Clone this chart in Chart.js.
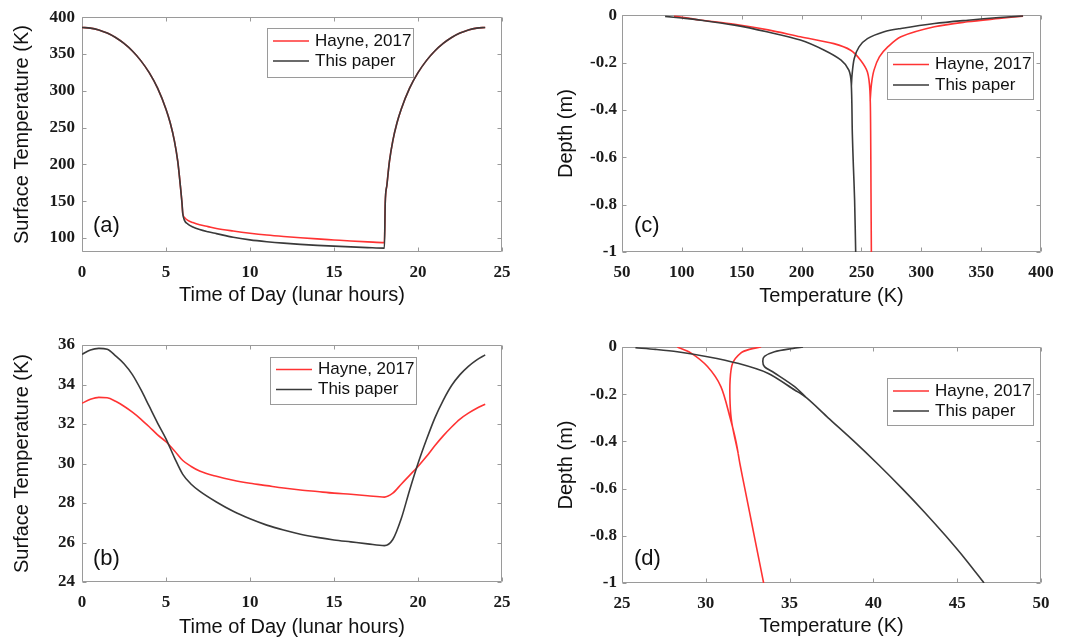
<!DOCTYPE html>
<html><head><meta charset="utf-8">
<script src="https://cdn.jsdelivr.net/npm/chart.js@4.4.1/dist/chart.umd.min.js"></script>
<style>
html,body{margin:0;padding:0;background:#fff;}
#wrap{position:relative;width:1068px;height:640px;overflow:hidden;background:#fff;}
canvas{position:absolute;}
</style></head><body>
<div id="wrap">
<canvas id="pa" width="534" height="320" style="left:0;top:0"></canvas>
<canvas id="pc" width="534" height="320" style="left:534px;top:0"></canvas>
<canvas id="pb" width="534" height="320" style="left:0;top:320px"></canvas>
<canvas id="pd" width="534" height="320" style="left:534px;top:320px"></canvas>
</div>
<script>
// ---------- data ----------
const seriesNames = ['Hayne, 2017', 'This paper'];

// (a) surface temperature over a lunar day (equator)
const timeA = [0,0.5,1,1.5,2,2.5,3,3.5,4,4.5,5,5.25,5.5,5.7,5.85,5.95,6,
  6.1,6.3,6.6,7,7.5,8,9,10,11,12,13,14,15,16,17,18,
  18.05,18.15,18.3,18.5,18.75,19,19.5,20,20.5,21,21.5,22,22.5,23,23.5,24];
const hayneA = [386,385.2,382.7,378.4,372.4,364.3,354,341,324.6,303.6,275,256.5,232,204,172,148,133,
  128,124,121,118,115.5,113,109.5,106.5,104,102,100.3,98.8,97.4,96,94.8,93.7,
  148,172,204,232,256.5,275,303.6,324.6,341,354,364.3,372.4,378.4,382.7,385.2,386];
const thisA = [386,385.2,382.7,378.4,372.4,364.3,354,341,324.6,303.6,275,256.5,232,204,172,148,133,
  124,119,115,111.5,108.5,106,101,97.5,95,93,91.4,90,89,88,87,86.2,
  148,172,204,232,256.5,275,303.6,324.6,341,354,364.3,372.4,378.4,382.7,385.2,386];

// (b) surface temperature over a lunar day (polar)
const timeB = [0,0.5,1,1.5,2,2.5,3,3.5,4,4.5,5,5.5,6,6.5,7,8,9,10,11,12,13,14,15,16,17,18,
  18.5,19,19.5,20,20.5,21,21.5,22,22.5,23,23.5,24];
const hayneB = [33.05,33.25,33.35,33.33,33.15,32.9,32.6,32.25,31.86,31.45,31.1,30.65,30.15,29.85,29.62,
  29.35,29.15,29.0,28.88,28.76,28.66,28.58,28.5,28.44,28.37,28.3,
  28.5,28.95,29.4,29.85,30.35,30.9,31.4,31.85,32.25,32.55,32.8,33.0];
const thisB = [35.53,35.75,35.83,35.78,35.45,35.05,34.5,33.75,32.9,32.05,31.25,30.3,29.45,28.95,28.6,
  28.05,27.58,27.2,26.88,26.63,26.42,26.26,26.13,26.03,25.93,25.84,
  26.15,27.2,28.65,30.0,31.2,32.3,33.2,33.95,34.5,34.92,35.25,35.5];

// (c) temperature vs depth envelopes (equator): night (min) and noon (max) branches
const cHayneNightT = [93.5,115,144,172,199,227,241,249.3,255,257.1,257.7,258,258.3];
const cHayneNightD = [-0.004,-0.02,-0.038,-0.062,-0.091,-0.12,-0.148,-0.19,-0.24,-0.32,-0.49,-0.75,-1];
const cHayneDayT = [385,365,338.5,311,283,272,265,260.5,258.4,257.3];
const cHayneDayD = [-0.004,-0.014,-0.028,-0.049,-0.091,-0.134,-0.176,-0.232,-0.29,-0.36];
const cThisNightT = [86,100,116,144,171,199,219,233,239.5,241.5,242.4,243.3,244.3,245.2];
const cThisNightD = [-0.005,-0.012,-0.021,-0.042,-0.07,-0.105,-0.148,-0.19,-0.232,-0.288,-0.5,-0.64,-0.78,-1];
const cThisDayT = [385,365,339,311,283,269,255,248,244,242.2,241.6];
const cThisDayD = [-0.003,-0.01,-0.021,-0.035,-0.056,-0.07,-0.099,-0.134,-0.183,-0.25,-0.3];

// (d) temperature vs depth envelopes (polar)
const dHayneColdT = [28.3,29.1,30.1,30.9,31.45,31.8,32.05,32.33,32.61,32.89,33.17,33.45];
const dHayneColdD = [0,-0.025,-0.083,-0.168,-0.3,-0.4,-0.5,-0.6,-0.7,-0.8,-0.9,-1];
const dHayneWarmT = [33.3,32.6,32.1,31.6,31.45,31.45,31.55,31.93];
const dHayneWarmD = [0,-0.01,-0.025,-0.069,-0.14,-0.24,-0.32,-0.45];
const dThisColdT = [25.8,27,28.3,30.1,31.9,33.7,35.3,36.0,37.3,38.85,40.32,41.72,43.05,44.31,45.5,46.6];
const dThisColdD = [-0.003,-0.01,-0.02,-0.041,-0.069,-0.111,-0.182,-0.215,-0.3,-0.4,-0.5,-0.6,-0.7,-0.8,-0.9,-1];
const dThisWarmT = [35.8,35.2,34.1,33.5,33.4,33.5,34.1,35.3,36.0];
const dThisWarmD = [0,-0.006,-0.02,-0.04,-0.06,-0.083,-0.11,-0.168,-0.215];

// tick labels
const timeTicks = [0,5,10,15,20,25];
const tempTicksA = [100,150,200,250,300,350,400];
const tempTicksB = [24,26,28,30,32,34,36];
const tempTicksC = [50,100,150,200,250,300,350,400];
const tempTicksD = [25,30,35,40,45,50];
const depthTicks = [-1,-0.8,-0.6,-0.4,-0.2,0];

// ---------- helpers ----------
const zip = (xs, ys) => xs.map((x, i) => ({x: x, y: ys[i]}));
const branches = (a, b) => a.concat([{x: NaN, y: null}], b);

const RED = '#ff3333';
const BLACK = '#3a3a3a';
const TICK_FONT = {family: '"Liberation Serif", "Times New Roman", serif', size: 17, weight: 'bold'};
const TITLE_FONT = {family: '"Liberation Sans", Arial, Helvetica, sans-serif', size: 20};

const framePlugin = {
  id: 'frame',
  beforeDatasetsDraw(chart, args, opts) {
    const {ctx, chartArea: a, scales} = chart;
    const L = Math.round(a.left) + 0.5, R = Math.round(a.right) - 0.5;
    const T = Math.round(a.top) + 0.5, B = Math.round(a.bottom) - 0.5;
    ctx.save();
    ctx.strokeStyle = '#9a9a9a';
    ctx.lineWidth = 1;
    ctx.beginPath();
    ctx.rect(L, T, R - L, B - T);
    scales.x.ticks.forEach(t => {
      const p = Math.round(scales.x.getPixelForValue(t.value)) + 0.5;
      ctx.moveTo(p, B); ctx.lineTo(p, B - 4);
      ctx.moveTo(p, T); ctx.lineTo(p, T + 4);
    });
    scales.y.ticks.forEach(t => {
      const p = Math.round(scales.y.getPixelForValue(t.value)) + 0.5;
      ctx.moveTo(L, p); ctx.lineTo(L + 4, p);
      ctx.moveTo(R, p); ctx.lineTo(R - 4, p);
    });
    ctx.stroke();
    ctx.restore();
  },
  afterDraw(chart, args, opts) {
    const {ctx} = chart;
    const lg = opts.legend;
    ctx.save();
    ctx.fillStyle = '#fff';
    ctx.fillRect(lg.x, lg.y, lg.w, lg.h);
    ctx.strokeStyle = '#9a9a9a';
    ctx.lineWidth = 1;
    ctx.strokeRect(lg.x + 0.5, lg.y + 0.5, lg.w, lg.h);
    ctx.font = '17px "Liberation Sans", Arial, sans-serif';
    ctx.textBaseline = 'middle';
    ctx.textAlign = 'left';
    chart.data.datasets.forEach((ds, i) => {
      const cy = lg.y + lg.rows[i];
      ctx.strokeStyle = ds.borderColor;
      ctx.lineWidth = 1.6;
      ctx.beginPath();
      ctx.moveTo(lg.x + 6, cy); ctx.lineTo(lg.x + 42, cy);
      ctx.stroke();
      ctx.fillStyle = '#111';
      ctx.fillText(ds.label, lg.x + 48, cy);
    });
    ctx.font = '22px "Liberation Sans", Arial, sans-serif';
    ctx.fillStyle = '#111';
    ctx.fillText(opts.tag, opts.tagX, opts.tagY);
    ctx.restore();
  }
};

function panel(id, o) {
  return new Chart(document.getElementById(id), {
    type: 'line',
    data: {
      datasets: [
        {label: seriesNames[0], data: o.red, borderColor: RED, borderWidth: 1.6, pointRadius: 0,
         tension: o.tension, cubicInterpolationMode: o.mono ? 'monotone' : 'default', order: 1, spanGaps: false},
        {label: seriesNames[1], data: o.black, borderColor: BLACK, borderWidth: 1.6, pointRadius: 0,
         tension: o.tension, cubicInterpolationMode: o.mono ? 'monotone' : 'default', order: 0, spanGaps: false}
      ]
    },
    options: {
      responsive: false,
      animation: false,
      events: [],
      layout: {padding: {left: 0, top: o.area.top, right: 534 - o.area.right, bottom: 0}},
      plugins: {
        legend: {display: false},
        tooltip: {enabled: false},
        frame: {legend: o.legend, tag: o.tag, tagX: o.tagX, tagY: o.tagY}
      },
      scales: {
        x: {
          type: 'linear', min: o.xmin, max: o.xmax,
          afterBuildTicks: s => { s.ticks = o.xticks.map(v => ({value: v})); },
          afterFit: s => { s.height = 320 - o.area.bottom; },
          grid: {display: false, drawTicks: false},
          border: {display: false},
          ticks: {autoSkip: false, maxRotation: 0, minRotation: 0, padding: 10, font: TICK_FONT, color: '#1a1a1a',
                  callback: v => String(v)},
          title: {display: true, text: o.xtitle, font: TITLE_FONT, color: '#111', padding: {top: 0, bottom: o.xtPad}}
        },
        y: {
          type: 'linear', min: o.ymin, max: o.ymax,
          afterBuildTicks: s => { s.ticks = o.yticks.map(v => ({value: v})); },
          afterFit: s => { s.width = o.area.left; },
          grid: {display: false, drawTicks: false},
          border: {display: false},
          ticks: {autoSkip: false, padding: o.ytickPad, font: TICK_FONT, color: '#1a1a1a',
                  callback: v => String(v)},
          title: {display: true, text: o.ytitle, font: TITLE_FONT, color: '#111', padding: {top: o.ytPad, bottom: 0}}
        }
      }
    },
    plugins: [framePlugin]
  });
}

panel('pa', {
  red: zip(timeA, hayneA), black: zip(timeA, thisA), mono: true, tension: 0.4,
  xmin: 0, xmax: 25, ymin: 81, ymax: 400, xticks: timeTicks, yticks: tempTicksA,
  xtitle: 'Time of Day (lunar hours)', ytitle: 'Surface Temperature (K)',
  area: {left: 82, right: 502, top: 14, bottom: 252}, xtPad: 13, ytPad: 10, ytickPad: 7,
  legend: {x: 267, y: 28, w: 146, h: 49, rows: [13, 33]}, tag: '(a)', tagX: 93, tagY: 226
});
panel('pb', {
  red: zip(timeB, hayneB), black: zip(timeB, thisB), mono: true, tension: 0.4,
  xmin: 0, xmax: 25, ymin: 24, ymax: 36, xticks: timeTicks, yticks: tempTicksB,
  xtitle: 'Time of Day (lunar hours)', ytitle: 'Surface Temperature (K)',
  area: {left: 82, right: 502, top: 25, bottom: 262}, xtPad: 1, ytPad: 10, ytickPad: 7,
  legend: {x: 270, y: 37, w: 146, h: 47, rows: [12.5, 32.5]}, tag: '(b)', tagX: 93, tagY: 239
});
panel('pc', {
  red: branches(zip(cHayneNightT, cHayneNightD), zip(cHayneDayT, cHayneDayD)),
  black: branches(zip(cThisNightT, cThisNightD), zip(cThisDayT, cThisDayD)),
  mono: false, tension: 0.3,
  xmin: 50, xmax: 400, ymin: -1, ymax: 0, xticks: tempTicksC, yticks: depthTicks,
  xtitle: 'Temperature (K)', ytitle: 'Depth (m)',
  area: {left: 88, right: 507, top: 15, bottom: 252}, xtPad: 12, ytPad: 20, ytickPad: 5,
  legend: {x: 353, y: 52, w: 146, h: 47, rows: [12.5, 33]}, tag: '(c)', tagX: 100, tagY: 226
});
panel('pd', {
  red: branches(zip(dHayneColdT, dHayneColdD), zip(dHayneWarmT, dHayneWarmD)),
  black: branches(zip(dThisColdT, dThisColdD), zip(dThisWarmT, dThisWarmD)),
  mono: false, tension: 0.3,
  xmin: 25, xmax: 50, ymin: -1, ymax: 0, xticks: tempTicksD, yticks: depthTicks,
  xtitle: 'Temperature (K)', ytitle: 'Depth (m)',
  area: {left: 88, right: 507, top: 27, bottom: 263}, xtPad: 2, ytPad: 20, ytickPad: 5,
  legend: {x: 353, y: 58, w: 146, h: 47, rows: [13, 33]}, tag: '(d)', tagX: 100, tagY: 239
});
</script>
</body></html>
